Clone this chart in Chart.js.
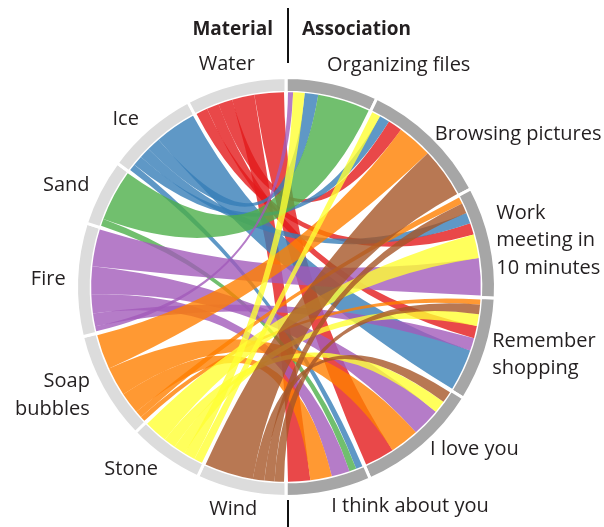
<!DOCTYPE html>
<html>
<head>
<meta charset="utf-8">
<script src="https://cdn.jsdelivr.net/npm/chart.js@4.4.0/dist/chart.umd.min.js"></script>
<style>
  body { margin: 0; background: #fff; }
  canvas { display: block; }
</style>
</head>
<body>
<canvas id="chord" width="604" height="527"></canvas>
<script>
// materials (left half, top to bottom) and associations (right half, top to bottom)
const materials = ["Water", "Ice", "Sand", "Fire", ["Soap", "bubbles"], "Stone", "Wind"];
const associations = ["Organizing files", "Browsing pictures", ["Work", "meeting in", "10 minutes"], ["Remember", "shopping"], "I love you", "I think about you"];

// one row per material, one column per association
const water = [0, 4.2, 3.4, 3.6, 8.7, 6.6];
const ice   = [4.0, 3.0, 3.2, 12.3, 0, 2.0];
const sand  = [15.5, 0, 0, 0, 0, 2.1];
const fire  = [1.5, 0, 10.9, 3.8, 8.3, 5.4];
const soap  = [0, 10.3, 2.0, 1.5, 8.5, 6.4];
const stone = [3.4, 2.5, 7.0, 3.5, 3.6, 0];
const wind  = [0, 14.5, 3.0, 2.8, 3.4, 0];
const matrix = [water, ice, sand, fire, soap, stone, wind];

const ribbonColors = ["#e41a1c", "#377eb8", "#4daf4a", "#a35bba", "#ff7f00", "#ffff33", "#a65628"];

// small hand nudges for a few labels (px)
const labelNudge = {
  "Water": [-6, -5],
  "Organizing files": [-8, -3],
  "Browsing pictures": [-4, 9],
  "Work meeting in 10 minutes": [-5, 2],
  "Remember shopping": [-4, 0],
  "I love you": [0, -8],
  "Soap bubbles": [-3, 0],
  "Ice": [-3, 2],
  "Wind": [-5, 3]
};

const nA = associations.length;
const nM = materials.length;
const assocSums = associations.map((_, j) => matrix.reduce((s, row) => s + row[j], 0));
const matSums = matrix.map(row => row.reduce((s, v) => s + v, 0));

// doughnut goes clockwise from the top: associations, then materials from the bottom up
const ringLabels = associations.concat(materials.slice().reverse());
const ringData = assocSums.concat(matSums.slice().reverse());
const ringColors = associations.map(() => "#a6a6a6").concat(materials.map(() => "#dcdcdc"));
const matIndex = i => nA + (nM - 1 - i);

const chordPlugin = {
  id: "chord",
  afterDatasetsDraw(chart) {
    const ctx = chart.ctx;
    const arcs = chart.getDatasetMeta(0).data;
    const cx = arcs[0].x, cy = arcs[0].y;
    const r = arcs[0].innerRadius;
    const pad = 2 / r;

    // sub-ranges inside each group, smallest first (clockwise)
    function layout(arc, items) {
      const total = items.reduce((s, it) => s + it.v, 0);
      const k = (arc.endAngle - arc.startAngle - 2 * pad) / total;
      let a = arc.startAngle + pad;
      const out = {};
      items.slice().sort((p, q) => p.v - q.v).forEach(it => {
        out[it.key] = [a, a + it.v * k];
        a += it.v * k;
      });
      return out;
    }

    const matSpan = matrix.map((row, i) =>
      layout(arcs[matIndex(i)], row.map((v, j) => ({ key: j, v })).filter(it => it.v > 0)));
    const assocSpan = associations.map((_, j) =>
      layout(arcs[j], matrix.map((row, i) => ({ key: i, v: row[j] })).filter(it => it.v > 0)));

    ctx.save();
    ctx.globalAlpha = 0.8;
    matrix.forEach((row, i) => {
      row.forEach((v, j) => {
        if (v <= 0) return;
        const [s0, s1] = matSpan[i][j];
        const [t0, t1] = assocSpan[j][i];
        ctx.beginPath();
        ctx.moveTo(cx + r * Math.cos(s0), cy + r * Math.sin(s0));
        ctx.arc(cx, cy, r, s0, s1);
        ctx.quadraticCurveTo(cx, cy, cx + r * Math.cos(t0), cy + r * Math.sin(t0));
        ctx.arc(cx, cy, r, t0, t1);
        ctx.quadraticCurveTo(cx, cy, cx + r * Math.cos(s0), cy + r * Math.sin(s0));
        ctx.closePath();
        ctx.fillStyle = ribbonColors[i];
        ctx.fill();
      });
    });
    ctx.restore();
  },
  afterDraw(chart) {
    const ctx = chart.ctx;
    const arcs = chart.getDatasetMeta(0).data;
    const cx = arcs[0].x, cy = arcs[0].y;
    const R = arcs[0].outerRadius + 11;
    ctx.save();
    ctx.fillStyle = "#231f20";
    ctx.font = "20px 'Open Sans'";
    ctx.textBaseline = "middle";
    arcs.forEach((arc, idx) => {
      const mid = (arc.startAngle + arc.endAngle) / 2;
      const dx = Math.cos(mid), dy = Math.sin(mid);
      const lines = [].concat(ringLabels[idx]);
      const nudge = labelNudge[lines.join(" ")] || [0, 0];
      const x = cx + R * dx + nudge[0], y = cy + (R + 4) * dy + nudge[1];
      if (idx < nA) ctx.textAlign = "left";
      else ctx.textAlign = dx > -0.3 ? "center" : "right";
      const lh = 27.5;
      lines.forEach((t, n) => ctx.fillText(t, x, y + (n - (lines.length - 1) / 2) * lh));
    });

    // headers and divider
    ctx.font = "bold 19px 'Open Sans'";
    ctx.textBaseline = "alphabetic";
    ctx.textAlign = "right";
    ctx.fillText("Material", cx - 13, 35);
    ctx.textAlign = "left";
    ctx.fillText("Association", cx + 16, 35);
    ctx.strokeStyle = "#111";
    ctx.lineWidth = 2;
    ctx.beginPath();
    ctx.moveTo(cx + 2, 8);
    ctx.lineTo(cx + 2, 63);
    ctx.moveTo(cx + 2, 500);
    ctx.lineTo(cx + 2, 527);
    ctx.stroke();
    ctx.restore();
  }
};

new Chart(document.getElementById("chord"), {
  type: "doughnut",
  data: {
    labels: ringLabels,
    datasets: [{
      data: ringData,
      backgroundColor: ringColors,
      borderColor: "#ffffff",
      borderWidth: 3,
      hoverOffset: 0
    }]
  },
  options: {
    responsive: false,
    animation: false,
    cutout: "93%",
    layout: { padding: { left: 75, right: 107, top: 76, bottom: 29 } },
    plugins: {
      legend: { display: false },
      tooltip: { enabled: false }
    },
    events: []
  },
  plugins: [chordPlugin]
});
</script>
</body>
</html>
